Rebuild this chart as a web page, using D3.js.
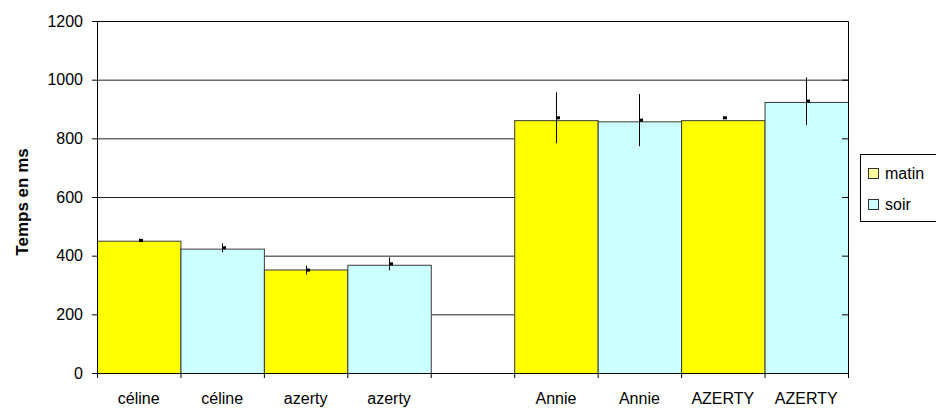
<!DOCTYPE html>
<html lang="fr">
<head>
<meta charset="UTF-8">
<title>Temps en ms</title>
<script src="https://cdn.jsdelivr.net/npm/d3@7/dist/d3.min.js"></script>
<style>
    body { margin: 0; background: #fff; }
    svg { display: block; font-family: "Liberation Sans", Arial, sans-serif; }
    .tick text { font-size: 16px; fill: #000; }
    .grid line { stroke: #222; }
    .grid .domain { display: none; }
</style>
</head>
<body>
<div id="chart"></div>
<script>
// données
var labels   = ['céline', 'céline', 'azerty', 'azerty', '', 'Annie', 'Annie', 'AZERTY', 'AZERTY'];
var series   = ['matin', 'soir', 'matin', 'soir', null, 'matin', 'soir', 'matin', 'soir'];
var values   = [451, 424, 353, 369, null, 862, 858, 862, 924];
var errMid   = [452, 427, 351, 372, null, 870, 862, 870, 927];
var errSize  = [6, 15, 15, 22, null, 87, 89, 3, 81];
var yTicks   = [0, 200, 400, 600, 800, 1000, 1200];
var legendNames = ['matin', 'soir'];

var colors = { matin: '#ffff00', soir: '#ccffff' };
var legendColors = { matin: '#ffff99', soir: '#ccffff' };

var W = 936, H = 409;
var margin = { top: 21, right: 88, bottom: 36, left: 97 };
var width = W - margin.left - margin.right,
    height = H - margin.top - margin.bottom;

var svg = d3.select('#chart').append('svg')
    .attr('width', W)
    .attr('height', H);

var g = svg.append('g')
    .attr('transform', 'translate(' + margin.left + ',' + margin.top + ')');

var x = d3.scaleBand()
    .domain(d3.range(labels.length))
    .range([0, width])
    .padding(0);

var y = d3.scaleLinear()
    .domain([0, 1200])
    .range([height, 0]);

// grille
g.append('g').attr('class', 'grid')
    .call(d3.axisLeft(y).tickValues(yTicks.slice(1)).tickSize(-width).tickFormat(''));

// barres
var idx = d3.range(labels.length).filter(function(i) { return values[i] !== null; });

g.append('g').selectAll('rect')
    .data(idx)
    .enter().append('rect')
        .attr('x', function(i) { return x(i) + 0.5; })
        .attr('y', function(i) { return y(values[i]) + 0.5; })
        .attr('width', x.bandwidth())
        .attr('height', function(i) { return height - y(values[i]); })
        .attr('fill', function(i) { return colors[series[i]]; })
        .attr('stroke', '#3a3a3a')
        .attr('stroke-width', 1);

// barres d'erreur
var err = g.append('g');
err.selectAll('line')
    .data(idx)
    .enter().append('line')
        .attr('x1', function(i) { return Math.round(x(i) + x.bandwidth() / 2) + 0.5; })
        .attr('x2', function(i) { return Math.round(x(i) + x.bandwidth() / 2) + 0.5; })
        .attr('y1', function(i) { return y(errMid[i] + errSize[i]); })
        .attr('y2', function(i) { return y(errMid[i] - errSize[i]); })
        .attr('stroke', '#000')
        .attr('stroke-width', 1);
err.selectAll('rect')
    .data(idx)
    .enter().append('rect')
        .attr('x', function(i) { return Math.round(x(i) + x.bandwidth() / 2); })
        .attr('y', function(i) { return y(errMid[i]) - 1.5; })
        .attr('width', 4)
        .attr('height', 3)
        .attr('fill', '#000');

// axes
var left = g.append('g')
    .call(d3.axisLeft(y).tickValues(yTicks).tickSize(5).tickPadding(9).tickFormat(d3.format('d')));
left.select('.domain').attr('stroke', '#000');

var right = g.append('g')
    .attr('transform', 'translate(' + width + ',0)')
    .call(d3.axisLeft(y).tickValues(yTicks).tickSize(6).tickFormat(''));
right.select('.domain').attr('stroke', '#000');

// cadre du haut
g.append('line')
    .attr('x1', 0).attr('x2', width)
    .attr('y1', 0.5).attr('y2', 0.5)
    .attr('stroke', '#000');

var bottom = g.append('g')
    .attr('transform', 'translate(0,' + height + ')')
    .call(d3.axisBottom(x).tickSize(0).tickPadding(20).tickFormat(function(i) { return labels[i]; }));
bottom.select('.domain').attr('stroke', '#000');

// graduations aux limites des catégories
bottom.selectAll('line.sep')
    .data(d3.range(labels.length + 1))
    .enter().append('line')
        .attr('class', 'sep')
        .attr('x1', function(i) { return (i < labels.length ? x(i) : width) + 0.5; })
        .attr('x2', function(i) { return (i < labels.length ? x(i) : width) + 0.5; })
        .attr('y1', 0)
        .attr('y2', 5)
        .attr('stroke', '#000');

// titre de l'axe
svg.append('text')
    .attr('transform', 'translate(28,' + (margin.top + height / 2 + 5) + ') rotate(-90)')
    .attr('text-anchor', 'middle')
    .style('font-size', '17px')
    .style('font-weight', 'bold')
    .text('Temps en ms');

// légende
var legend = svg.append('g').attr('transform', 'translate(860,154)');
legend.append('rect')
    .attr('x', 0.5).attr('y', 0.5)
    .attr('width', 90).attr('height', 67)
    .attr('fill', '#fff')
    .attr('stroke', '#000');

var items = legend.selectAll('g.item')
    .data(legendNames)
    .enter().append('g')
        .attr('class', 'item')
        .attr('transform', function(d, i) { return 'translate(8,' + (14 + i * 31) + ')'; });
items.append('rect')
    .attr('x', 0.5).attr('y', 0.5)
    .attr('width', 10).attr('height', 10)
    .attr('fill', function(d) { return legendColors[d]; })
    .attr('stroke', '#333');
items.append('text')
    .attr('x', 17)
    .attr('y', 11)
    .style('font-size', '16px')
    .text(function(d) { return d; });
</script>
</body>
</html>
